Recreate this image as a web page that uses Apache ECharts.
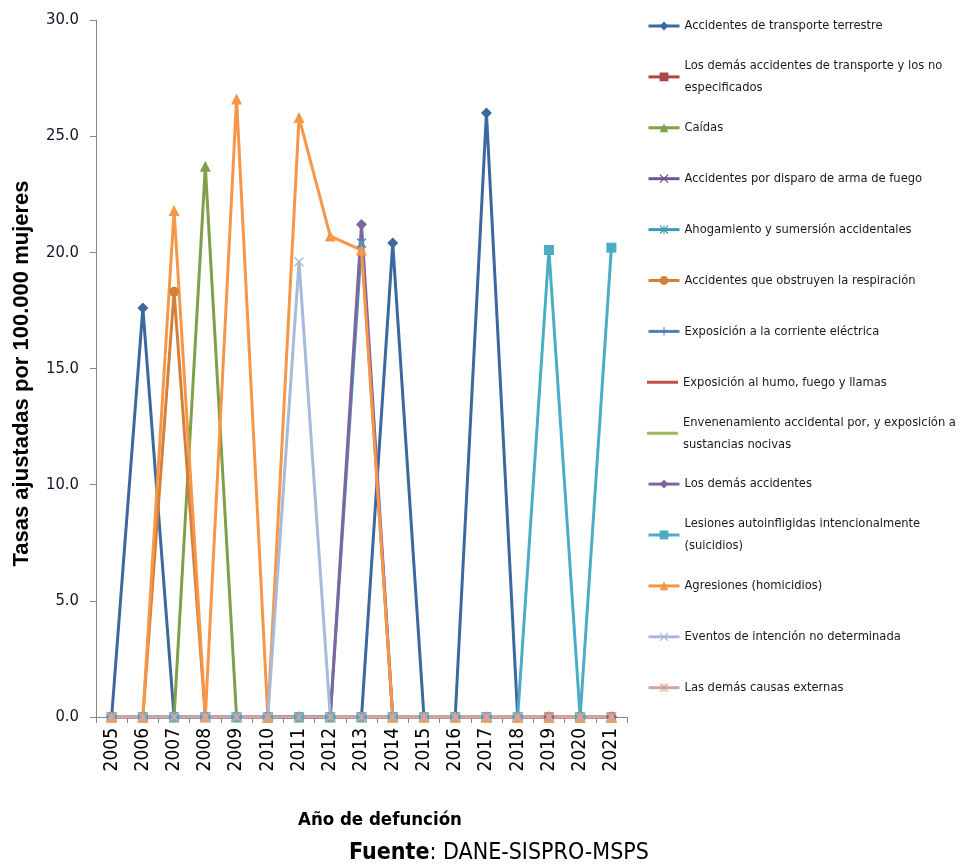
<!DOCTYPE html>
<html>
<head>
<meta charset="utf-8">
<title>Tasas ajustadas por causas externas - mujeres</title>
<script src="https://cdn.jsdelivr.net/npm/echarts@6/dist/echarts.min.js"></script>
<style>
  html, body { margin: 0; padding: 0; background: #ffffff; }
  #chart { width: 960px; height: 868px; }
</style>
</head>
<body>
<div id="chart"></div>
<script>
// Años de defunción (eje X)
const years = ['2005', '2006', '2007', '2008', '2009', '2010', '2011', '2012', '2013',
               '2014', '2015', '2016', '2017', '2018', '2019', '2020', '2021'];

// Tasas ajustadas por 100.000 mujeres, una lista por causa
const transporteTerrestre   = [0, 17.6, 0, 0, 0, 0, 0, 0, 0, 20.4, 0, 0, 26.0, 0, 0, 0, 0];
const demasTransporte       = [0, 0, 0, 0, 0, 0, 0, 0, 0, 0, 0, 0, 0, 0, 0, 0, 0];
const caidas                = [0, 0, 0, 23.7, 0, 0, 0, 0, 0, 0, 0, 0, 0, 0, 0, 0, 0];
const disparoArmaFuego      = [0, 0, 0, 0, 0, 0, 0, 0, 0, 0, 0, 0, 0, 0, 0, 0, 0];
const ahogamiento           = [0, 0, 0, 0, 0, 0, 0, 0, 20.4, 0, 0, 0, 0, 0, 0, 0, 0];
const obstruyenRespiracion  = [0, 0, 18.3, 0, 0, 0, 0, 0, 0, 0, 0, 0, 0, 0, 0, 0, 0];
const corrienteElectrica    = [0, 0, 0, 0, 0, 0, 0, 0, 0, 0, 0, 0, 0, 0, 0, 0, 0];
const humoFuegoLlamas       = [0, 0, 0, 0, 0, 0, 0, 0, 0, 0, 0, 0, 0, 0, 0, 0, 0];
const envenenamiento        = [0, 0, 0, 0, 0, 0, 0, 0, 0, 0, 0, 0, 0, 0, 0, 0, 0];
const demasAccidentes       = [0, 0, 0, 0, 0, 0, 0, 0, 21.2, 0, 0, 0, 0, 0, 0, 0, 0];
const suicidios             = [0, 0, 0, 0, 0, 0, 0, 0, 0, 0, 0, 0, 0, 0, 20.1, 0, 20.2];
const homicidios            = [0, 0, 21.8, 0, 26.6, 0, 25.8, 20.7, 20.1, 0, 0, 0, 0, 0, 0, 0, 0];
const intencionNoDet        = [0, 0, 0, 0, 0, 0, 19.6, 0, 0, 0, 0, 0, 0, 0, 0, 0, 0];
const demasCausasExternas   = [0, 0, 0, 0, 0, 0, 0, 0, 0, 0, 0, 0, 0, 0, 0, 0, 0];

const seriesNames = [
  'Accidentes de transporte terrestre',
  'Los demás accidentes de transporte y los no especificados',
  'Caídas',
  'Accidentes por disparo de arma de fuego',
  'Ahogamiento y sumersión accidentales',
  'Accidentes que obstruyen la respiración',
  'Exposición a la corriente eléctrica',
  'Exposición al humo, fuego y llamas',
  'Envenenamiento accidental por, y exposición a sustancias nocivas',
  'Los demás accidentes',
  'Lesiones autoinfligidas intencionalmente (suicidios)',
  'Agresiones (homicidios)',
  'Eventos de intención no determinada',
  'Las demás causas externas'
];
const seriesValues = [
  transporteTerrestre, demasTransporte, caidas, disparoArmaFuego, ahogamiento,
  obstruyenRespiracion, corrienteElectrica, humoFuegoLlamas, envenenamiento,
  demasAccidentes, suicidios, homicidios, intencionNoDet, demasCausasExternas
];

// Texto de leyenda con sus saltos de línea
const legendLabels = {
  'Los demás accidentes de transporte y los no especificados':
    'Los demás accidentes de transporte y los no\nespecificados',
  'Envenenamiento accidental por, y exposición a sustancias nocivas':
    'Envenenamiento accidental por, y exposición a\nsustancias nocivas',
  'Lesiones autoinfligidas intencionalmente (suicidios)':
    'Lesiones autoinfligidas intencionalmente\n(suicidios)'
};

// Marcadores dibujados como trazos
const X_PATH = 'path://M1,0 L5,4 L9,0 L10,1 L6,5 L10,9 L9,10 L5,6 L1,10 L0,9 L4,5 L0,1 Z';
const PLUS_PATH = 'path://M4.4,0 L5.6,0 L5.6,4.4 L10,4.4 L10,5.6 L5.6,5.6 L5.6,10 L4.4,10 L4.4,5.6 L0,5.6 L0,4.4 L4.4,4.4 Z';
const STAR_PATH = X_PATH + ' M4.4,0 L5.6,0 L5.6,10 L4.4,10 Z';
// Icono de leyenda solo con trazo (series sin marcador); las puntas mínimas fijan el alto del icono
const LINE_ONLY_ICON = 'path://M0,0 L0.01,0 L0,0.01 Z M0,4 L31,4 L31,7 L0,7 Z M0,11 L0.01,11 L0,10.99 Z';

const seriesColors = [
  '#3B689E', '#AA4643', '#7F9F48', '#6F5893', '#3D9CB5', '#D4803A', '#4F81BD',
  '#C0504D', '#9BBB59', '#8064A2', '#4BACC6', '#F79646', '#A8BAD9', '#D9A3A2'
];
const seriesSymbols = [
  'diamond', 'rect', 'triangle', X_PATH, STAR_PATH, 'circle', PLUS_PATH,
  'none', 'none', 'diamond', 'rect', 'triangle', X_PATH, STAR_PATH
];
const symbolSizes = [11, 9, 11, 10, 10, 10, 10, 0, 0, 11, 10, 11, 10, 10];

const CONDENSED = "'DejaVu Sans Condensed', 'Liberation Sans', sans-serif";
const REGULAR = "'Liberation Sans', Arial, sans-serif";

const chart = echarts.init(document.getElementById('chart'), null, { renderer: 'canvas' });

const series = seriesNames.map((name, i) => ({
  name: name,
  type: 'line',
  data: seriesValues[i],
  symbol: seriesSymbols[i],
  symbolSize: symbolSizes[i],
  showSymbol: seriesSymbols[i] !== 'none',
  color: seriesColors[i],
  lineStyle: { width: 3, color: seriesColors[i] },
  itemStyle: { color: seriesColors[i] },
  emphasis: { disabled: true },
  animation: false
}));

// Una leyenda por causa, a intervalos regulares en la columna derecha
const legendStep = 50.9;
const legends = seriesNames.map((name, i) => {
  const twoLines = legendLabels[name] !== undefined;
  const centerY = 26 + legendStep * i;
  const item = seriesSymbols[i] === 'none' ? { name: name, icon: LINE_ONLY_ICON } : { name: name };
  return {
    data: [item],
    orient: 'vertical',
    left: 647,
    top: centerY - (twoLines ? 33 : 11),
    itemWidth: 31,
    itemHeight: 11,
    padding: 0,
    selectedMode: false,
    formatter: (n) => legendLabels[n] || n,
    lineStyle: { width: 3 },
    textStyle: {
      fontFamily: CONDENSED,
      fontSize: 12.8,
      color: '#1a1a1a',
      lineHeight: 22,
      padding: twoLines ? [22, 0, 0, 0] : 0
    }
  };
});

chart.setOption({
  backgroundColor: '#ffffff',
  animation: false,
  grid: { left: 96, right: 333, top: 20, bottom: 151, containLabel: false },
  legend: legends,
  title: [
    {
      text: 'Año de defunción',
      left: 298,
      top: 811,
      padding: 0,
      textStyle: { fontFamily: CONDENSED, fontSize: 18.5, fontWeight: 'bold', color: '#000' }
    },
    {
      text: '{b|Fuente}: DANE-SISPRO-MSPS',
      left: 349,
      top: 842,
      padding: 0,
      textStyle: {
        fontFamily: CONDENSED, fontSize: 23, fontWeight: 'normal', color: '#000',
        rich: { b: { fontFamily: CONDENSED, fontSize: 23, fontWeight: 'bold', color: '#000' } }
      }
    }
  ],
  xAxis: {
    type: 'category',
    data: years,
    boundaryGap: true,
    axisLine: { show: true, lineStyle: { color: '#868686', width: 1 } },
    axisTick: { show: true, alignWithLabel: false, length: 6, lineStyle: { color: '#868686' } },
    axisLabel: {
      rotate: 90, margin: 11, interval: 0,
      fontFamily: CONDENSED, fontSize: 19, color: '#000'
    },
    splitLine: { show: false }
  },
  yAxis: {
    type: 'value',
    min: 0,
    max: 30,
    interval: 5,
    name: 'Tasas ajustadas por 100.000 mujeres',
    nameLocation: 'middle',
    nameGap: 63,
    nameTextStyle: {
      fontFamily: REGULAR, fontSize: 22, fontWeight: 'bold', color: '#000',
      padding: [0, 10, 0, 0]
    },
    axisLine: { show: true, lineStyle: { color: '#868686', width: 1 } },
    axisTick: { show: true, length: 6, lineStyle: { color: '#868686' } },
    axisLabel: {
      margin: 17,
      fontFamily: CONDENSED, fontSize: 16.5, color: '#141428',
      formatter: (v) => v.toFixed(1)
    },
    splitLine: { show: false }
  },
  series: series
});
</script>
</body>
</html>
